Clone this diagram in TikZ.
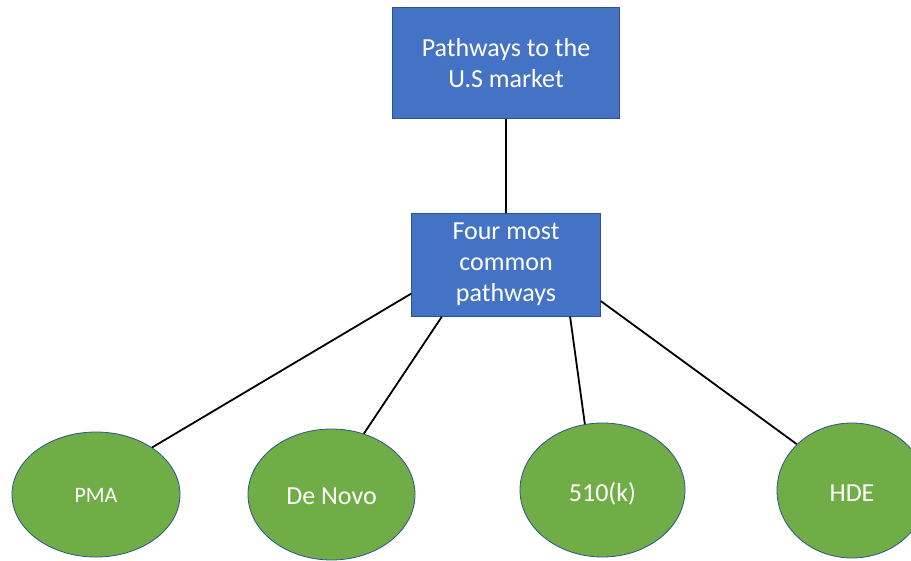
\documentclass[tikz,border=0pt]{standalone}
\usepackage{fontspec}
\setmainfont{Carlito}
\usetikzlibrary{shapes.geometric}

\definecolor{boxblue}{HTML}{4472C4}
\definecolor{edgeblue}{HTML}{2F528F}
\definecolor{leafgreen}{HTML}{70AD47}

\tikzset{
  bluebox/.style={rectangle, draw=edgeblue, line width=0.8pt, fill=boxblue,
    inner sep=0pt, text=white, align=center,
    font=\fontsize{26}{31}\selectfont},
  leaf/.style={ellipse, draw=edgeblue, line width=0.8pt, fill=leafgreen,
    inner sep=0pt, text=white, text depth=0pt, font=\fontsize{26}{31}\selectfont},
  link/.style={draw=black, line width=1.8pt}
}

\begin{document}
\begin{tikzpicture}[x=1pt, y=-1pt]
  \useasboundingbox (0,0) rectangle (911,561);

  % boxes
  \node[bluebox, minimum width=227pt, minimum height=111pt] (top) at (506,63)
    {Pathways to the\\U.S market};
  \node[bluebox, minimum width=189pt, minimum height=103pt] (mid) at (506,264.7)
    {Four most\\common\\pathways};

  % pathways
  \node[leaf, minimum width=168pt, minimum height=125pt, text height=16pt,
        font=\fontsize{22}{26}\selectfont] (pma) at (96,494.5) {PMA};
  \node[leaf, minimum width=167pt, minimum height=131pt, text height=20pt]
    (denovo) at (331.5,494.5) {De Novo};
  \node[leaf, minimum width=165pt, minimum height=134pt, text height=22.5pt]
    (k510) at (602.5,490) {510(k)};
  \node[leaf, minimum width=150pt, minimum height=135pt, text height=21.5pt]
    (hde) at (852,490.5) {HDE};

  % connectors
  \draw[link] (top.south) -- (mid.north);
  \draw[link] (mid.197) -- (pma.40);
  \draw[link] (mid.219) -- (denovo.62);
  \draw[link] (mid.321) -- (k510.105);
  \draw[link] (mid.339) -- (hde.140);
\end{tikzpicture}
\end{document}
